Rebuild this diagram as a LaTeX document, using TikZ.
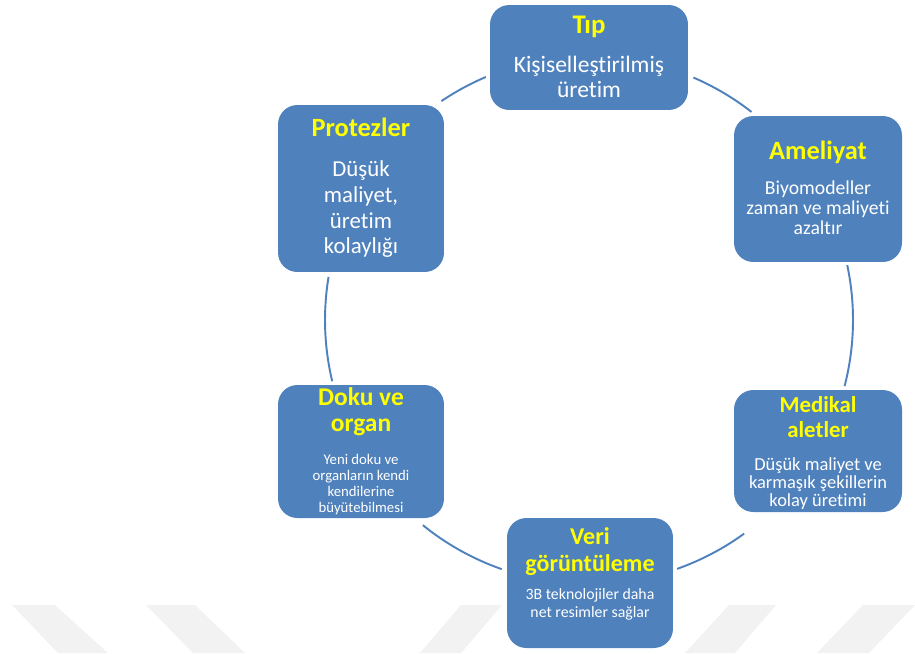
\documentclass[tikz,border=0pt]{standalone}
\usepackage{fontspec}
\setmainfont{Carlito}[RawFeature={-liga;-clig;-dlig;-calt}]
\definecolor{kutumavi}{HTML}{4F81BD}
\definecolor{baslikrenk}{HTML}{FFFF00}

\begin{document}
\begin{tikzpicture}[x=0.02cm,y=0.02cm,
	kutu/.style={fill=kutumavi,rounded corners=11pt,inner sep=0pt},
	baslik/.style 2 args={anchor=north,inner sep=0pt,align=center,text=baslikrenk,font=\fontsize{#1}{#2}\selectfont\bfseries},
	metin/.style 2 args={anchor=north,inner sep=0pt,align=center,text=white,font=\fontsize{#1}{#2}\selectfont},
	halka/.style={line width=1.1pt,draw=kutumavi},
	iz/.style={fill=black!5}]
		\useasboundingbox (0,0) rectangle (915,-653);
		\fill[iz] (12,-605)--(55,-605)--(108,-653)--(58,-653)--cycle;
		\fill[iz] (146,-605)--(195,-605)--(245,-653)--(193,-653)--cycle;
		\fill[iz] (461,-605)--(502,-605)--(461,-653)--(420,-653)--cycle;
		\fill[iz] (729,-605)--(776,-605)--(735,-653)--(685,-653)--cycle;
		\fill[iz] (863,-605)--(915,-605)--(869,-653)--(817,-653)--cycle;
		\coordinate (merkez) at (589,-320);
		\draw[halka] (merkez) ++(124:264) arc[start angle=124,end angle=113,radius=264];
		\draw[halka] (merkez) ++(66.7:264) arc[start angle=66.7,end angle=52,radius=264];
		\draw[halka] (merkez) ++(12:264) arc[start angle=12,end angle=-14.5,radius=264];
		\draw[halka] (merkez) ++(-54:264) arc[start angle=-54,end angle=-70.5,radius=264];
		\draw[halka] (merkez) ++(-109.3:264) arc[start angle=-109.3,end angle=-129,radius=264];
		\draw[halka] (merkez) ++(193.4:264) arc[start angle=193.4,end angle=170.6,radius=264];
		\node[kutu,minimum width=3.96cm,minimum height=2.1cm] (tip) at (589,-57.5) {};
		\node[kutu,minimum width=3.36cm,minimum height=2.92cm] (ameliyat) at (818,-189) {};
		\node[kutu,minimum width=3.36cm,minimum height=2.44cm] (medikal) at (818,-451) {};
		\node[kutu,minimum width=3.32cm,minimum height=2.6cm] (veri) at (590,-583) {};
		\node[kutu,minimum width=3.32cm,minimum height=2.66cm] (doku) at (361,-451.5) {};
		\node[kutu,minimum width=3.32cm,minimum height=3.34cm] (protez) at (361,-188.5) {};
		\node[baslik={15.3pt}{16pt}] (tipbaslik) at (589,-15.6) {Tıp};
		\node[metin={13.4pt}{14.2pt}] (tipmetin) at (589,-55.5) {Kişiselleştirilmiş\\üretim};
		\node[baslik={15pt}{16pt}] (ameliyatbaslik) at (818,-140.5) {Ameliyat};
		\node[metin={11.2pt}{11.6pt}] (ameliyatmetin) at (818,-180) {Biyomodeller\\zaman ve maliyeti\\azaltır};
		\node[baslik={13pt}{14.2pt}] (medikalbaslik) at (818,-396) {Medikal\\aletler};
		\node[metin={10.5pt}{10.4pt}] (medikalmetin) at (818,-457) {Düşük maliyet ve\\karmaşık şekillerin\\kolay üretimi};
		\node[baslik={13.7pt}{15.3pt}] (veribaslik) at (590,-527) {Veri\\görüntüleme};
		\node[metin={9pt}{10.2pt}] (verimetin) at (590,-588) {3B teknolojiler daha\\net resimler sağlar};
		\node[baslik={14.5pt}{15.1pt}] (dokubaslik) at (361,-387) {Doku ve\\organ};
		\node[metin={8.4pt}{9.2pt}] (dokumetin) at (361,-453.6) {Yeni doku ve\\organların kendi\\kendilerine\\büyütebilmesi};
		\node[baslik={15pt}{16pt}] (protezbaslik) at (361,-118) {Protezler};
		\node[metin={13pt}{14.6pt}] (protezmetin) at (361,-160.7) {Düşük\\maliyet,\\üretim\\kolaylığı};
	\end{tikzpicture}
\end{document}
